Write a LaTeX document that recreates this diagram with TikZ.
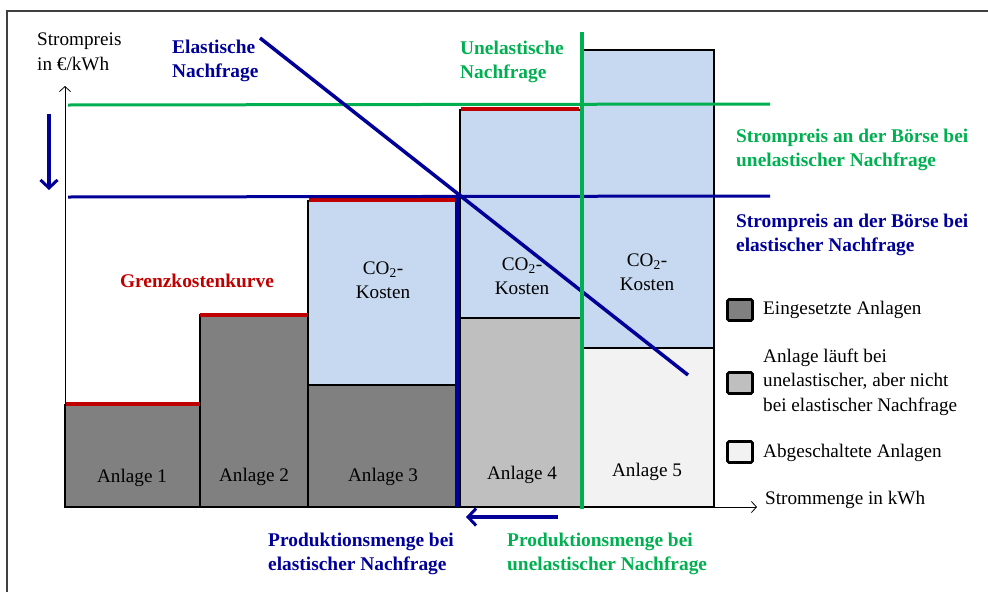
\documentclass[tikz,border=0pt]{standalone}
\usepackage{fontspec}
\setmainfont{Liberation Serif}
\usetikzlibrary{arrows.meta}
\definecolor{navy}{RGB}{0,0,153}
\definecolor{ogreen}{RGB}{0,176,80}
\definecolor{ored}{RGB}{192,0,0}
\definecolor{co2fill}{RGB}{198,217,240}
\definecolor{usedfill}{RGB}{128,128,128}
\definecolor{partfill}{RGB}{191,191,191}
\definecolor{offfill}{RGB}{242,242,242}
\tikzset{
  txt/.style={font=\fontsize{19.2}{24.5}\selectfont, inner sep=0pt, align=left},
  btxt/.style={font=\bfseries\fontsize{19.4}{24.5}\selectfont, inner sep=0pt, align=left},
  bar/.style={draw=black, line width=1.2pt},
  co2box/.style={draw=black, line width=2pt, fill=co2fill},
  margcost/.style={line width=3.5pt, ored},
  pricestep/.style={line width=3pt},
  movearrow/.style={line width=3.5pt, navy, -{Straight Barb[length=8pt,width=17pt,line width=3pt]}},
  axisline/.style={line width=0.8pt, -{Straight Barb[length=5pt,width=11pt,line width=0.8pt]}},
  legbox/.style={draw=black, line width=2.8pt, rounded corners=1.5pt, minimum width=25pt, minimum height=21pt, inner sep=0pt}
}
\begin{document}
\begin{tikzpicture}[x=1pt,y=-1pt]
\useasboundingbox (0,0) rectangle (988,592);
% outer frame
\draw[line width=1.5pt, black!75] (7,592) -- (7,11) -- (988,11);

% power plants (merit order)
\draw[bar, fill=usedfill] (65,405) rectangle (200,507);
\draw[bar, fill=usedfill] (200,315) rectangle (308,507);
\draw[bar, fill=usedfill] (308,385) rectangle (458,507);
\draw[co2box] (308,201) rectangle (458,385);
\draw[bar, fill=partfill] (460,318) rectangle (582,507);
\draw[co2box] (460,110) rectangle (582,318);
\draw[bar, fill=offfill] (582,348) rectangle (714,507);
\draw[co2box] (582,50) rectangle (714,348);

% marginal cost curve
\draw[margcost] (66,404) -- (200,404);
\draw[margcost] (200,315) -- (308,315);
\draw[margcost] (309,200) -- (456,200);
\draw[margcost] (461,109) -- (579,109);

% axes
\coordinate (origin) at (65,507);
\coordinate (ytop) at (65,86);
\coordinate (xend) at (757,507);
\draw[axisline] (origin) -- (ytop);
\draw[axisline] (origin) -- (xend);

% labels in the bars
\node[txt] (a1) at (132,478) {Anlage 1};
\node[txt] (a2) at (254,477) {Anlage 2};
\node[txt] (a3) at (383,477) {Anlage 3};
\node[txt] (a4) at (522,475) {Anlage 4};
\node[txt] (a5) at (647,472) {Anlage 5};
\node[txt, align=center] (k3) at (383,280) {CO\textsubscript{2}-\\Kosten};
\node[txt, align=center] (k4) at (522,276) {CO\textsubscript{2}-\\Kosten};
\node[txt, align=center] (k5) at (647,272) {CO\textsubscript{2}-\\Kosten};

% price levels
\coordinate (gL) at (68,105);  \coordinate (gR) at (770,104);
\coordinate (bL) at (68,197);  \coordinate (bR) at (770,196);
\draw[pricestep, ogreen] (gL) -- (gR);
\draw[pricestep, navy] (bL) -- (bR);

% elastic demand curve and quantity
\coordinate (dTop) at (260,38);
\coordinate (dEnd) at (688,375);
\draw[line width=3.5pt, navy] (dTop) -- (dEnd);
\coordinate (qeT) at (457,197); \coordinate (qeB) at (457,507);
\draw[line width=3.5pt, navy] (qeT) -- (qeB);

% inelastic demand
\coordinate (quT) at (582,32); \coordinate (quB) at (582,509);
\draw[line width=4pt, ogreen] (quT) -- (quB);

% shift arrows
\coordinate (pA) at (49,114); \coordinate (pB) at (49,190);
\draw[movearrow] (pA) -- (pB);
\coordinate (qA) at (558,517); \coordinate (qB) at (466,517);
\draw[movearrow] (qA) -- (qB);

% axis titles
\node[txt, anchor=west] (ylab) at (37,52) {Strompreis\\in €/kWh};
\node[txt, anchor=west] (xlab) at (765,500) {Strommenge in kWh};

% curve captions
\node[btxt, navy, anchor=west] (ela) at (172,61) {Elastische\\Nachfrage};
\node[btxt, ogreen, anchor=west] (una) at (460,62) {Unelastische\\Nachfrage};
\node[btxt, ored] (gk) at (197,281) {Grenzkostenkurve};
\node[btxt, ogreen, anchor=west] (pu) at (736,150) {Strompreis an der Börse bei\\unelastischer Nachfrage};
\node[btxt, navy, anchor=west] (pe) at (736,235) {Strompreis an der Börse bei\\elastischer Nachfrage};
\node[btxt, navy, anchor=west] (me) at (268,554) {Produktionsmenge bei\\elastischer Nachfrage};
\node[btxt, ogreen, anchor=west] (mu) at (507,554) {Produktionsmenge bei\\unelastischer Nachfrage};

% legend
\node[legbox, fill=usedfill] (l1) at (740,310) {};
\node[legbox, fill=partfill] (l2) at (740,383) {};
\node[legbox, fill=offfill] (l3) at (740,452) {};
\node[txt, anchor=west] (t1) at (763,310) {Eingesetzte Anlagen};
\node[txt, anchor=west] (t2) at (763,382) {Anlage läuft bei\\unelastischer, aber nicht\\bei elastischer Nachfrage};
\node[txt, anchor=west] (t3) at (763,453) {Abgeschaltete Anlagen};
\end{tikzpicture}
\end{document}
